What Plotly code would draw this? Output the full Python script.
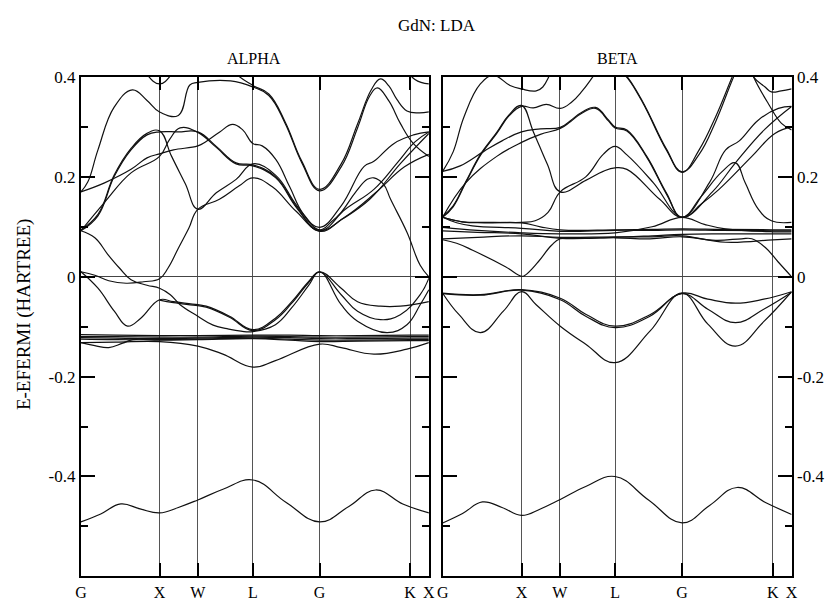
import plotly.graph_objects as go

# ---------------- data ----------------
SYM_POS = [0.0, 0.226, 0.336, 0.494, 0.686, 0.946, 1.0]
SYM_LAB = ["G", "X", "W", "L", "G", "K", "X"]
Y_MAJOR = [-0.4, -0.2, 0.0, 0.2, 0.4]
Y_MAJOR_TXT = ["-0.4", "-0.2", "0", "0.2", "0.4"]
Y_MINOR = [-0.5, -0.3, -0.1, 0.1, 0.3]

# ALPHA (spin up) bands: (k, E) in path fraction / Hartree
a_top1 = ([0.16, 0.19, 0.226, 0.26, 0.29], [0.45, 0.405, 0.386, 0.405, 0.45])
a_top2 = ([0.40, 0.44, 0.494, 0.54, 0.587, 0.635, 0.686, 0.748, 0.795, 0.835, 0.861, 0.885, 0.908, 0.937, 0.97, 1.0],
          [0.45, 0.41, 0.383, 0.366, 0.310, 0.231, 0.175, 0.226, 0.306, 0.375, 0.396, 0.382, 0.355, 0.332, 0.328, 0.330])
a_main = ([0, 0.02, 0.049, 0.096, 0.148, 0.19, 0.226, 0.28, 0.313, 0.336, 0.43, 0.494, 0.54, 0.587, 0.635, 0.686, 0.748, 0.795, 0.83, 0.852, 0.885, 0.918, 0.955, 1.0],
          [0.170, 0.19, 0.254, 0.340, 0.374, 0.353, 0.330, 0.323, 0.384, 0.389, 0.392, 0.380, 0.363, 0.307, 0.228, 0.172, 0.220, 0.298, 0.362, 0.378, 0.352, 0.307, 0.267, 0.241])
a_tr = ([0.92, 0.96, 1.0], [0.43, 0.395, 0.386])
a_b = ([0, 0.068, 0.144, 0.19, 0.226, 0.266, 0.336, 0.36, 0.399, 0.436, 0.465, 0.494, 0.521, 0.56, 0.60, 0.64, 0.686, 0.748, 0.814, 0.842, 0.90, 0.956, 1.0],
       [0.170, 0.188, 0.215, 0.238, 0.246, 0.254, 0.262, 0.271, 0.290, 0.305, 0.294, 0.267, 0.262, 0.235, 0.180, 0.125, 0.099, 0.142, 0.221, 0.231, 0.267, 0.284, 0.290])
a_c = ([0, 0.049, 0.096, 0.144, 0.19, 0.226, 0.28, 0.336, 0.389, 0.446, 0.494, 0.56, 0.62, 0.686, 0.76, 0.842, 0.909, 0.96, 1.0],
       [0.092, 0.122, 0.201, 0.254, 0.284, 0.290, 0.290, 0.290, 0.261, 0.228, 0.224, 0.200, 0.140, 0.092, 0.135, 0.175, 0.228, 0.270, 0.290])
a_c2 = ([0, 0.049, 0.096, 0.144, 0.19, 0.226, 0.26, 0.30, 0.336, 0.389, 0.446, 0.494, 0.56, 0.62, 0.686, 0.72, 0.748, 0.79, 0.823, 0.842, 0.87, 0.89, 0.937, 0.975, 1.0],
        [0.094, 0.125, 0.204, 0.257, 0.287, 0.292, 0.242, 0.186, 0.135, 0.168, 0.195, 0.226, 0.203, 0.143, 0.094, 0.110, 0.129, 0.170, 0.195, 0.198, 0.185, 0.155, 0.089, 0.023, 0.0])
a_d = ([0, 0.068, 0.144, 0.226, 0.255, 0.285, 0.336, 0.389, 0.446, 0.494, 0.56, 0.62, 0.686, 0.75, 0.83, 0.92, 1.0],
       [0.092, 0.149, 0.208, 0.241, 0.275, 0.298, 0.289, 0.259, 0.226, 0.222, 0.198, 0.138, 0.091, 0.115, 0.155, 0.228, 0.287])
a_h = ([0, 0.04, 0.08, 0.13, 0.18, 0.226, 0.25, 0.28, 0.31, 0.336, 0.398, 0.455, 0.494, 0.55, 0.62, 0.686, 0.76, 0.85, 0.93, 1.0],
       [0.010, 0.003, -0.008, -0.013, -0.010, -0.004, 0.017, 0.057, 0.097, 0.135, 0.155, 0.182, 0.198, 0.180, 0.130, 0.093, 0.120, 0.170, 0.220, 0.245])
a_g = ([0, 0.04, 0.077, 0.11, 0.144, 0.19, 0.226, 0.257, 0.285, 0.336, 0.38, 0.42, 0.46, 0.494, 0.559, 0.606, 0.654, 0.686, 0.748, 0.795, 0.88, 0.937, 0.975, 1.0],
       [0.092, 0.078, 0.045, 0.018, -0.006, -0.017, -0.023, -0.036, -0.056, -0.079, -0.097, -0.104, -0.109, -0.110, -0.096, -0.062, -0.018, 0.010, -0.056, -0.089, -0.112, -0.096, -0.056, -0.026])
a_dip = ([0, 0.049, 0.096, 0.134, 0.172, 0.226, 0.266, 0.336, 0.36, 0.427, 0.494, 0.559, 0.606, 0.654, 0.686, 0.748, 0.795, 0.861, 0.918, 1.0],
         [0.010, -0.023, -0.069, -0.099, -0.083, -0.046, -0.050, -0.056, -0.059, -0.079, -0.106, -0.083, -0.050, -0.010, 0.010, -0.023, -0.050, -0.059, -0.059, -0.050])
a_dip2 = ([0.226, 0.266, 0.336, 0.36, 0.427, 0.494, 0.559, 0.606, 0.654, 0.686, 0.748, 0.795, 0.861, 0.918, 0.975, 1.0],
          [-0.047, -0.052, -0.058, -0.061, -0.081, -0.108, -0.086, -0.053, -0.012, 0.009, -0.036, -0.069, -0.086, -0.076, -0.036, -0.003])
a_f1 = ([0, 0.1, 0.226, 0.336, 0.494, 0.6, 0.686, 0.8, 0.946, 1.0],
        [-0.116, -0.117, -0.118, -0.118, -0.117, -0.117, -0.118, -0.118, -0.117, -0.117])
a_f2 = ([0, 0.1, 0.226, 0.336, 0.494, 0.6, 0.686, 0.8, 0.946, 1.0],
        [-0.120, -0.120, -0.121, -0.121, -0.119, -0.120, -0.121, -0.121, -0.120, -0.120])
a_f3 = ([0, 0.1, 0.226, 0.336, 0.494, 0.6, 0.686, 0.8, 0.946, 1.0],
        [-0.122, -0.123, -0.124, -0.123, -0.121, -0.122, -0.124, -0.124, -0.123, -0.123])
a_f4 = ([0, 0.1, 0.226, 0.336, 0.494, 0.6, 0.686, 0.8, 0.946, 1.0],
        [-0.125, -0.126, -0.126, -0.125, -0.123, -0.125, -0.127, -0.127, -0.126, -0.126])
a_f5 = ([0, 0.04, 0.08, 0.12, 0.15, 0.226, 0.336, 0.494, 0.6, 0.686, 0.8, 0.946, 1.0],
        [-0.132, -0.138, -0.142, -0.133, -0.126, -0.127, -0.126, -0.124, -0.127, -0.130, -0.129, -0.128, -0.128])
a_low = ([0, 0.1, 0.226, 0.336, 0.408, 0.494, 0.559, 0.686, 0.748, 0.842, 0.937, 1.0],
         [-0.132, -0.131, -0.130, -0.139, -0.155, -0.181, -0.168, -0.135, -0.142, -0.155, -0.145, -0.132])
a_s = ([0, 0.057, 0.115, 0.17, 0.226, 0.28, 0.336, 0.41, 0.494, 0.59, 0.686, 0.77, 0.847, 0.925, 1.0],
       [-0.491, -0.475, -0.455, -0.465, -0.473, -0.462, -0.447, -0.425, -0.407, -0.452, -0.491, -0.460, -0.427, -0.455, -0.473])

ALPHA = [a_top1, a_top2, a_main, a_tr, a_b, a_c, a_c2, a_d, a_h, a_g, a_dip, a_dip2,
         a_f1, a_f2, a_f3, a_f4, a_f5, a_low, a_s]

# BETA (spin down) bands
b_top = ([0, 0.03, 0.061, 0.108, 0.146, 0.193, 0.226, 0.268, 0.287, 0.306, 0.33],
         [0.211, 0.25, 0.320, 0.386, 0.403, 0.383, 0.376, 0.372, 0.380, 0.403, 0.44])
b_top2 = ([0.45, 0.494, 0.528, 0.56, 0.585, 0.641, 0.686, 0.735, 0.782, 0.829, 0.86],
          [0.425, 0.421, 0.399, 0.365, 0.333, 0.254, 0.209, 0.254, 0.320, 0.399, 0.45])
b_top3 = ([0.45, 0.494, 0.528, 0.56, 0.585, 0.641, 0.686, 0.735, 0.782, 0.833, 0.86],
          [0.427, 0.423, 0.401, 0.367, 0.335, 0.256, 0.210, 0.245, 0.310, 0.399, 0.44])
b_rt = ([0.87, 0.891, 0.924, 0.942, 0.97, 1.0], [0.44, 0.40, 0.380, 0.370, 0.372, 0.376])
b_rt2 = ([0.87, 0.891, 0.933, 0.971, 1.0], [0.44, 0.40, 0.347, 0.307, 0.294])
b_thick1 = ([0, 0.03, 0.066, 0.11, 0.155, 0.19, 0.226, 0.26, 0.297, 0.337, 0.37, 0.40, 0.43, 0.46],
            [0.119, 0.14, 0.188, 0.245, 0.287, 0.322, 0.341, 0.338, 0.345, 0.337, 0.35, 0.372, 0.40, 0.43])
b_thick2 = ([0, 0.03, 0.066, 0.11, 0.155, 0.19, 0.226, 0.26, 0.30, 0.337, 0.41, 0.46, 0.494, 0.528, 0.622, 0.686, 0.74, 0.80, 0.839, 0.867, 0.905, 0.942, 1.0],
            [0.121, 0.142, 0.190, 0.247, 0.289, 0.324, 0.343, 0.290, 0.225, 0.170, 0.193, 0.211, 0.218, 0.215, 0.155, 0.119, 0.160, 0.210, 0.228, 0.188, 0.135, 0.112, 0.109])
b_G2 = ([0, 0.05, 0.118, 0.17, 0.226, 0.28, 0.337, 0.367, 0.40, 0.438, 0.475, 0.494, 0.528, 0.585, 0.641, 0.686, 0.764, 0.811, 0.85, 0.905, 0.962, 1.0],
        [0.211, 0.222, 0.251, 0.272, 0.290, 0.296, 0.299, 0.313, 0.330, 0.339, 0.314, 0.300, 0.294, 0.241, 0.168, 0.119, 0.188, 0.254, 0.272, 0.314, 0.337, 0.341])
b_G3 = ([0, 0.066, 0.155, 0.226, 0.28, 0.337, 0.367, 0.40, 0.438, 0.475, 0.494, 0.528, 0.585, 0.641, 0.686, 0.773, 0.839, 0.923, 1.0],
        [0.119, 0.188, 0.241, 0.269, 0.285, 0.297, 0.311, 0.328, 0.337, 0.312, 0.298, 0.292, 0.239, 0.166, 0.119, 0.170, 0.228, 0.295, 0.341])
b_flat = ([0, 0.056, 0.12, 0.226, 0.265, 0.302, 0.337, 0.41, 0.46, 0.494, 0.528, 0.604, 0.686, 0.74, 0.792, 0.886, 0.952, 1.0],
          [0.119, 0.110, 0.109, 0.109, 0.112, 0.129, 0.170, 0.200, 0.245, 0.261, 0.244, 0.188, 0.119, 0.145, 0.175, 0.241, 0.287, 0.300])
b_down = ([0, 0.04, 0.086, 0.18, 0.226, 0.236, 0.274, 0.312, 0.337, 0.42, 0.494, 0.594, 0.686, 0.782, 0.857, 0.886, 0.924, 0.961, 1.0],
          [0.074, 0.067, 0.053, 0.020, 0.001, 0.003, 0.030, 0.063, 0.076, 0.077, 0.078, 0.076, 0.080, 0.073, 0.076, 0.076, 0.059, 0.030, 0.0])
b_f1 = ([0, 0.056, 0.12, 0.226, 0.28, 0.337, 0.494, 0.6, 0.686, 0.8, 0.946, 1.0],
        [0.119, 0.110, 0.108, 0.108, 0.100, 0.094, 0.094, 0.095, 0.096, 0.095, 0.094, 0.094])
b_f2 = ([0, 0.04, 0.085, 0.226, 0.337, 0.494, 0.6, 0.686, 0.8, 0.946, 1.0],
        [0.119, 0.108, 0.102, 0.097, 0.091, 0.093, 0.093, 0.094, 0.093, 0.092, 0.092])
b_f3 = ([0, 0.1, 0.226, 0.337, 0.494, 0.6, 0.686, 0.75, 0.81, 0.946, 1.0],
        [0.099, 0.093, 0.088, 0.086, 0.088, 0.100, 0.119, 0.105, 0.096, 0.090, 0.090])
b_f4 = ([0, 0.1, 0.226, 0.337, 0.494, 0.6, 0.686, 0.8, 0.946, 1.0],
        [0.092, 0.089, 0.086, 0.077, 0.079, 0.082, 0.085, 0.086, 0.086, 0.086])
b_f5 = ([0, 0.1, 0.226, 0.337, 0.494, 0.6, 0.686, 0.81, 0.946, 1.0],
        [0.076, 0.079, 0.082, 0.079, 0.080, 0.080, 0.082, 0.069, 0.074, 0.076])
b_v1 = ([0, 0.108, 0.226, 0.337, 0.41, 0.494, 0.594, 0.686, 0.76, 0.839, 0.92, 1.0],
        [-0.033, -0.036, -0.026, -0.043, -0.075, -0.099, -0.076, -0.033, -0.045, -0.053, -0.045, -0.030])
b_v2 = ([0, 0.108, 0.226, 0.337, 0.41, 0.494, 0.594, 0.686, 0.76, 0.839, 0.92, 1.0],
        [-0.034, -0.037, -0.027, -0.046, -0.079, -0.102, -0.079, -0.034, -0.065, -0.092, -0.065, -0.031])
b_v3 = ([0, 0.047, 0.108, 0.174, 0.226, 0.268, 0.337, 0.41, 0.494, 0.594, 0.686, 0.76, 0.839, 0.92, 1.0],
        [-0.033, -0.076, -0.112, -0.069, -0.030, -0.056, -0.099, -0.135, -0.172, -0.109, -0.033, -0.095, -0.139, -0.090, -0.030])
b_s = ([0, 0.057, 0.114, 0.17, 0.226, 0.28, 0.337, 0.41, 0.494, 0.59, 0.686, 0.765, 0.844, 0.925, 1.0],
       [-0.493, -0.474, -0.451, -0.462, -0.478, -0.465, -0.446, -0.420, -0.400, -0.447, -0.493, -0.458, -0.422, -0.452, -0.476])

BETA = [b_top, b_top2, b_top3, b_rt, b_rt2, b_thick1, b_thick2, b_G2, b_G3, b_flat, b_down,
        b_f1, b_f2, b_f3, b_f4, b_f5, b_v1, b_v2, b_v3, b_s]

# ---------------- figure ----------------
FONT = "Liberation Serif, Times New Roman, DejaVu Serif, serif"
fig = go.Figure()

for xa, ya, bands in (("x", "y", ALPHA), ("x2", "y2", BETA)):
    for k, e in bands:
        fig.add_trace(go.Scatter(x=k, y=e, xaxis=xa, yaxis=ya, mode="lines",
                                 line=dict(color="#111", width=1.2, shape="spline", smoothing=1.2),
                                 hoverinfo="skip", showlegend=False))

xcommon = dict(range=[0, 1], tickmode="array", tickvals=SYM_POS, ticktext=SYM_LAB,
               ticks="inside", ticklen=13, tickwidth=2, tickcolor="black",
               showline=True, linecolor="black", linewidth=2, mirror="ticks",
               showgrid=True, gridcolor="#555", gridwidth=1.3, zeroline=False,
               tickfont=dict(family=FONT, size=16, color="black"))
ycommon = dict(range=[-0.6, 0.4], tickmode="array", tickvals=Y_MAJOR, ticktext=Y_MAJOR_TXT,
               ticks="inside", ticklen=14, tickwidth=2, tickcolor="black",
               minor=dict(tickvals=Y_MINOR, ticks="inside", ticklen=7, tickwidth=2, tickcolor="black", showgrid=False),
               showline=True, linecolor="black", linewidth=2, mirror="ticks",
               showgrid=False, zeroline=True, zerolinecolor="#444", zerolinewidth=1.3,
               tickfont=dict(family=FONT, size=17, color="black"),
               domain=[1 - 576 / 601, 1 - 69 / 601])

fig.update_layout(
    width=840, height=601, margin=dict(l=0, r=0, t=0, b=0),
    paper_bgcolor="white", plot_bgcolor="white",
    xaxis=dict(domain=[76 / 840, 429 / 840], anchor="y", **xcommon),
    xaxis2=dict(domain=[443 / 840, 797 / 840], anchor="y2", **xcommon),
    yaxis=dict(anchor="x", side="left", **ycommon),
    yaxis2=dict(anchor="x2", side="right", **ycommon),
    annotations=[
        dict(text="GdN: LDA", x=437 / 840, y=1 - 17 / 601, xref="paper", yref="paper",
             xanchor="center", yanchor="middle",
             showarrow=False, font=dict(family=FONT, size=17, color="black")),
        dict(text="ALPHA", x=252 / 840, y=1 - 50 / 601, xref="paper", yref="paper",
             xanchor="center", yanchor="middle",
             showarrow=False, font=dict(family=FONT, size=16, color="black")),
        dict(text="BETA", x=620 / 840, y=1 - 50 / 601, xref="paper", yref="paper",
             xanchor="center", yanchor="middle",
             showarrow=False, font=dict(family=FONT, size=16, color="black")),
        dict(text="E-EFERMI (HARTREE)", x=19 / 840, y=1 - 310 / 601, xref="paper", yref="paper",
             xanchor="center", yanchor="middle",
             textangle=-90, showarrow=False, font=dict(family=FONT, size=19, color="black")),
    ],
)

fig.write_html("out.html")
